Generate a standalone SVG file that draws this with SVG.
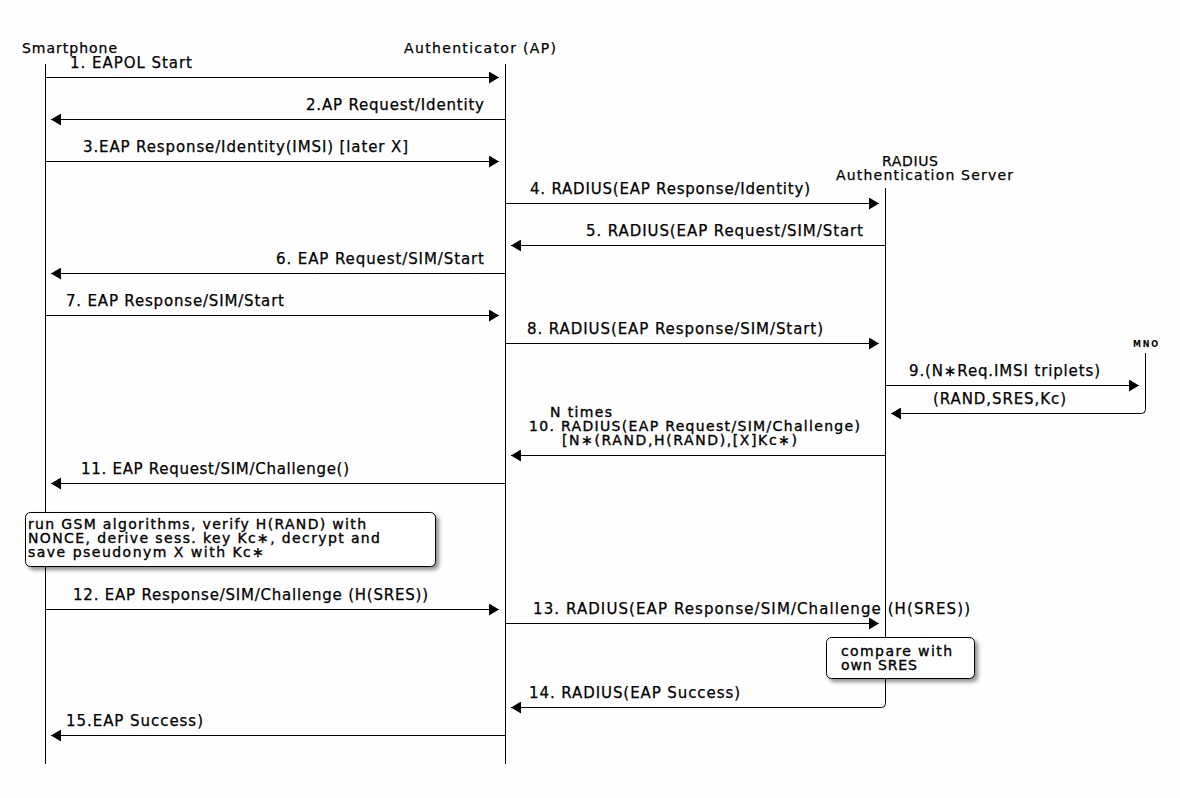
<svg xmlns="http://www.w3.org/2000/svg" width="1180" height="798" viewBox="0 0 1180 798">
<style>
text{font-family:"DejaVu Sans","Liberation Sans",sans-serif;font-size:15px;fill:#000;stroke:#000;stroke-width:0.25}
.hd{font-size:14px}
.ml{font-size:14px;stroke-width:0.35}
.mno{font-size:8px;font-weight:bold;stroke:none}
.life{stroke:#000;stroke-width:1;fill:none}
.msg{stroke:#000;stroke-width:1;fill:none;marker-end:url(#ah)}
.note{fill:#fff;stroke:#000;stroke-width:1}
</style>
<defs>
<marker id="ah" markerUnits="userSpaceOnUse" markerWidth="10" markerHeight="12" refX="10" refY="6" orient="auto">
<path d="M0,0 L10,6 L0,12 z" fill="#000"/>
</marker>
<filter id="sh" x="-10%" y="-20%" width="130%" height="150%">
<feGaussianBlur in="SourceAlpha" stdDeviation="2"/>
<feOffset dx="3" dy="3" result="b"/>
<feComponentTransfer><feFuncA type="linear" slope="0.45"/></feComponentTransfer>
<feMerge><feMergeNode/><feMergeNode in="SourceGraphic"/></feMerge>
</filter>
</defs>
<rect width="1180" height="798" fill="#fefefe"/>

<g id="smartphone">
<text class="hd" x="22" y="53" textLength="95" lengthAdjust="spacing">Smartphone</text>
<line class="life" x1="45.5" y1="64" x2="45.5" y2="764"/>
</g>
<g id="authenticator">
<text class="hd" x="404" y="53" textLength="152" lengthAdjust="spacing">Authenticator (AP)</text>
<line class="life" x1="505.5" y1="64" x2="505.5" y2="764"/>
</g>
<g id="radius">
<text class="hd" x="882" y="166" textLength="56" lengthAdjust="spacing">RADIUS</text>
<text class="hd" x="836" y="180" textLength="177" lengthAdjust="spacing">Authentication Server</text>
</g>
<g id="mno">
<text class="mno" x="1133" y="347" textLength="25" lengthAdjust="spacing">MNO</text>
</g>

<g id="connectors">
<line class="msg" x1="45.5" y1="77.5" x2="499" y2="77.5"/>
<line class="msg" x1="505.5" y1="119.5" x2="51" y2="119.5"/>
<line class="msg" x1="45.5" y1="161.5" x2="499" y2="161.5"/>
<line class="msg" x1="505.5" y1="203.5" x2="879" y2="203.5"/>
<line class="msg" x1="885.5" y1="245.5" x2="511" y2="245.5"/>
<line class="msg" x1="505.5" y1="273.5" x2="51" y2="273.5"/>
<line class="msg" x1="45.5" y1="315.5" x2="499" y2="315.5"/>
<line class="msg" x1="505.5" y1="343.5" x2="879" y2="343.5"/>
<line class="msg" x1="885.5" y1="385.5" x2="1139" y2="385.5"/>
<path class="life" d="M1145.5,353 V409.5 Q1145.5,413.5 1141.5,413.5"/>
<line class="msg" x1="1141.5" y1="413.5" x2="891" y2="413.5"/>
<line class="msg" x1="885.5" y1="455.5" x2="511" y2="455.5"/>
<line class="msg" x1="505.5" y1="483.5" x2="51" y2="483.5"/>
<line class="msg" x1="45.5" y1="609.5" x2="499" y2="609.5"/>
<line class="msg" x1="505.5" y1="623.5" x2="879" y2="623.5"/>
<path class="life" d="M885.5,188 V703.5 Q885.5,707.5 881.5,707.5"/>
<line class="msg" x1="881.5" y1="707.5" x2="511" y2="707.5"/>
<line class="msg" x1="505.5" y1="735.5" x2="51" y2="735.5"/>
</g>

<g id="labels">
<text x="70" y="68" textLength="122" lengthAdjust="spacing">1. EAPOL Start</text>
<text x="306" y="110" textLength="178" lengthAdjust="spacing">2.AP Request/Identity</text>
<text x="83" y="152" textLength="325" lengthAdjust="spacing">3.EAP Response/Identity(IMSI) [later X]</text>
<text x="530" y="194" textLength="280" lengthAdjust="spacing">4. RADIUS(EAP Response/Identity)</text>
<text x="586" y="236" textLength="277" lengthAdjust="spacing">5. RADIUS(EAP Request/SIM/Start</text>
<text x="276" y="264" textLength="208" lengthAdjust="spacing">6. EAP Request/SIM/Start</text>
<text x="66" y="306" textLength="218" lengthAdjust="spacing">7. EAP Response/SIM/Start</text>
<text x="527" y="334" textLength="296" lengthAdjust="spacing">8. RADIUS(EAP Response/SIM/Start)</text>
<text x="909" y="376" textLength="191" lengthAdjust="spacing">9.(N∗Req.IMSI triplets)</text>
<text x="933" y="404" textLength="133" lengthAdjust="spacing">(RAND,SRES,Kc)</text>
<text class="ml" x="550" y="417" textLength="62" lengthAdjust="spacing">N times</text>
<text class="ml" x="529" y="431" textLength="331" lengthAdjust="spacing">10. RADIUS(EAP Request/SIM/Challenge)</text>
<text class="ml" x="562" y="445" textLength="235" lengthAdjust="spacing">[N∗(RAND,H(RAND),[X]Kc∗)</text>
<text x="81" y="474" textLength="268" lengthAdjust="spacing">11. EAP Request/SIM/Challenge()</text>
<text x="73" y="600" textLength="355" lengthAdjust="spacing">12. EAP Response/SIM/Challenge (H(SRES))</text>
<text x="533" y="614" textLength="437" lengthAdjust="spacing">13. RADIUS(EAP Response/SIM/Challenge (H(SRES))</text>
<text x="529" y="698" textLength="211" lengthAdjust="spacing">14. RADIUS(EAP Success)</text>
<text x="66" y="726" textLength="137" lengthAdjust="spacing">15.EAP Success)</text>
</g>

<g id="note-gsm">
<rect class="note" x="25.5" y="512.5" width="410" height="54" rx="5" filter="url(#sh)"/>
<text class="ml" x="28" y="529" textLength="338" lengthAdjust="spacing">run GSM algorithms, verify H(RAND) with</text>
<text class="ml" x="28" y="543" textLength="352" lengthAdjust="spacing">NONCE, derive sess. key Kc∗, decrypt and</text>
<text class="ml" x="28" y="557" textLength="236" lengthAdjust="spacing">save pseudonym X with Kc∗</text>
</g>
<g id="note-compare">
<rect class="note" x="826.5" y="637.5" width="148" height="41" rx="5" filter="url(#sh)"/>
<text class="ml" x="841" y="656" textLength="111" lengthAdjust="spacing">compare with</text>
<text class="ml" x="841" y="670" textLength="76" lengthAdjust="spacing">own SRES</text>
</g>
</svg>
